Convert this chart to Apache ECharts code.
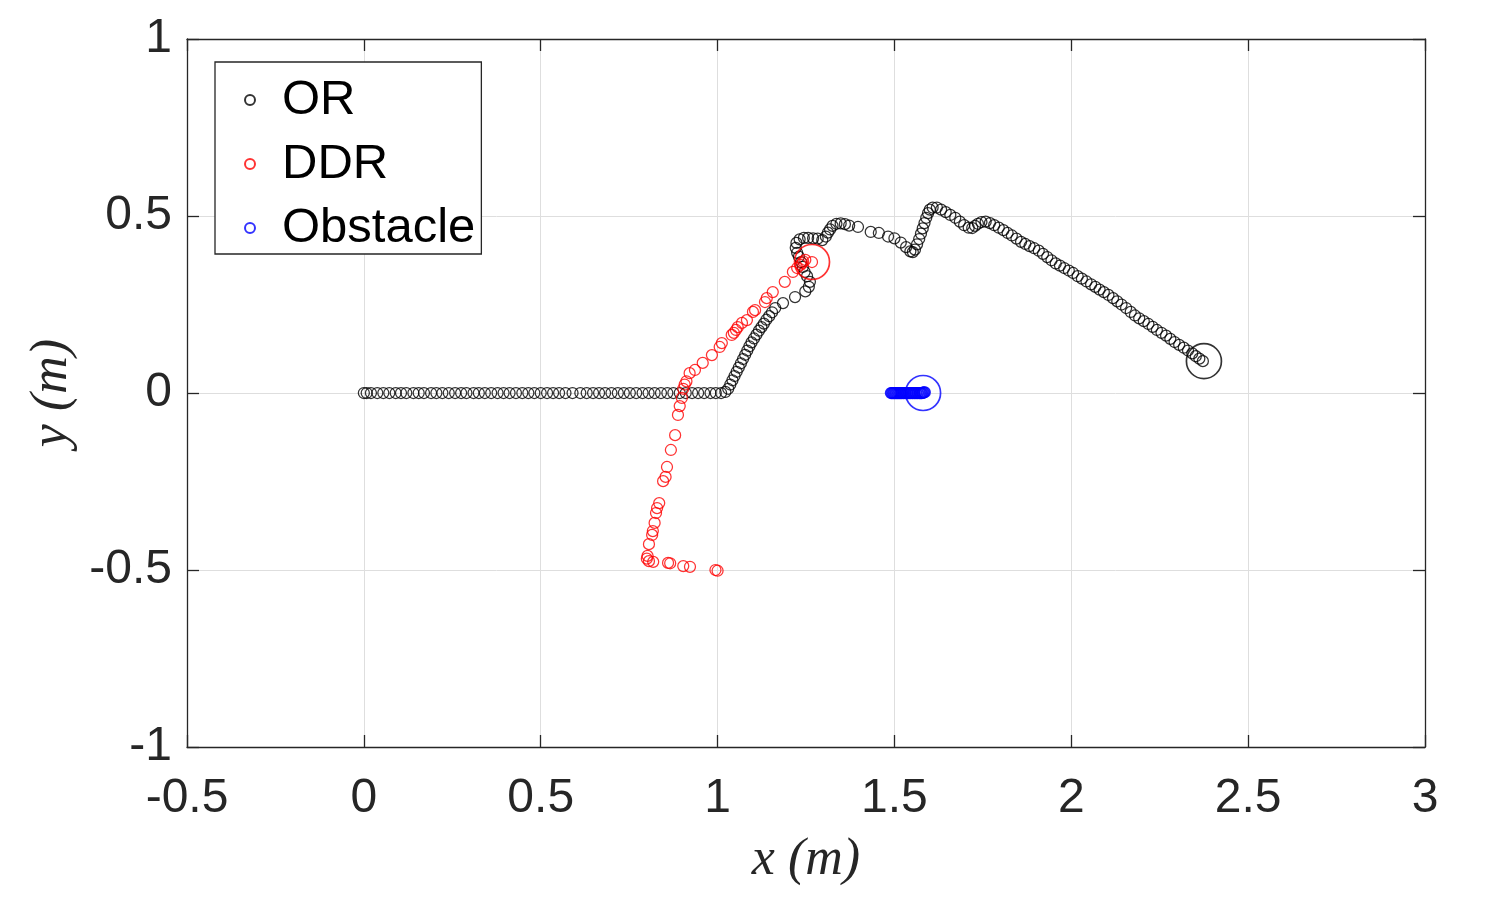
<!DOCTYPE html>
<html>
<head>
<meta charset="utf-8">
<script src="https://cdn.jsdelivr.net/npm/echarts@6/dist/echarts.min.js"></script>
<style>
  html, body { margin: 0; padding: 0; background: #fff; }
  #main { width: 1500px; height: 900px; }
</style>
</head>
<body>
<div id="main"></div>
<script>
// trajectory points, [x, y] in metres
var orPoints = [
  [0,0],[0.008,0],[0.02,0],[0.038,0],[0.055,0],[0.072,0],[0.09,0],[0.105,0],[0.12,0],[0.14,0],
  [0.155,0],[0.17,0],[0.19,0],[0.205,0],[0.222,0],[0.24,0],[0.258,0],[0.275,0],[0.29,0],[0.31,0],
  [0.325,0],[0.342,0],[0.36,0],[0.378,0],[0.395,0],[0.412,0],[0.43,0],[0.448,0],[0.465,0],[0.482,0],
  [0.5,0],[0.518,0],[0.535,0],[0.552,0],[0.57,0],[0.59,0],[0.612,0],[0.63,0],[0.648,0],[0.665,0],
  [0.682,0],[0.7,0],[0.718,0],[0.735,0],[0.752,0],[0.77,0],[0.788,0],[0.805,0],[0.822,0],[0.84,0],
  [0.858,0],[0.875,0],[0.893,0],[0.91,0],[0.928,0],[0.945,0],[0.962,0],[0.98,0],[0.995,0],[1.01,0],
  [1.022,0.003],[1.03,0.012],[1.036,0.024],[1.042,0.036],[1.048,0.048],[1.054,0.06],[1.06,0.072],
  [1.066,0.084],[1.072,0.096],[1.078,0.108],[1.084,0.12],[1.09,0.132],[1.096,0.143],[1.103,0.154],
  [1.11,0.165],[1.117,0.176],[1.124,0.186],[1.131,0.196],[1.138,0.207],[1.146,0.217],[1.154,0.228],
  [1.163,0.24],[1.185,0.254],[1.219,0.271],[1.248,0.287],[1.258,0.3],[1.261,0.314],[1.253,0.33],
  [1.246,0.342],[1.241,0.356],[1.236,0.37],[1.23,0.385],[1.225,0.396],[1.221,0.41],[1.223,0.424],
  [1.232,0.434],[1.244,0.438],[1.256,0.438],[1.27,0.437],[1.283,0.436],[1.296,0.432],[1.306,0.442],
  [1.312,0.453],[1.318,0.462],[1.325,0.472],[1.336,0.478],[1.348,0.479],[1.36,0.477],[1.372,0.473],
  [1.397,0.469],[1.433,0.455],[1.456,0.452],[1.482,0.442],[1.5,0.437],[1.518,0.425],[1.533,0.412],
  [1.545,0.4],[1.552,0.398],[1.558,0.405],[1.564,0.42],[1.57,0.435],[1.575,0.45],[1.58,0.465],
  [1.585,0.48],[1.59,0.495],[1.595,0.508],[1.6,0.518],[1.608,0.524],[1.62,0.524],[1.632,0.518],
  [1.645,0.511],[1.658,0.503],[1.672,0.495],[1.685,0.484],[1.697,0.474],[1.71,0.467],[1.72,0.466],
  [1.728,0.472],[1.736,0.478],[1.746,0.483],[1.758,0.484],[1.77,0.48],[1.782,0.474],[1.795,0.467],
  [1.808,0.46],[1.82,0.452],[1.832,0.445],[1.845,0.436],[1.858,0.427],[1.87,0.421],[1.882,0.415],
  [1.895,0.409],[1.908,0.402],[1.92,0.393],[1.932,0.384],[1.944,0.375],[1.956,0.366],[1.968,0.36],
  [1.98,0.353],[1.993,0.346],[2.005,0.339],[2.018,0.33],[2.03,0.323],[2.043,0.315],[2.056,0.307],
  [2.068,0.3],[2.08,0.292],[2.092,0.285],[2.105,0.277],[2.118,0.268],[2.13,0.259],[2.142,0.25],
  [2.155,0.24],[2.168,0.229],[2.18,0.219],[2.192,0.211],[2.205,0.203],[2.218,0.195],[2.23,0.187],
  [2.242,0.178],[2.255,0.17],[2.268,0.162],[2.28,0.153],[2.292,0.144],[2.305,0.136],[2.318,0.128],
  [2.33,0.12],[2.342,0.112],[2.352,0.104],[2.362,0.097],[2.372,0.09]
];
var ddrPoints = [
  [1.0,-0.502],[0.994,-0.5],[0.922,-0.491],[0.903,-0.489],[0.866,-0.481],[0.86,-0.48],[0.818,-0.477],
  [0.806,-0.475],[0.8,-0.468],[0.802,-0.46],[0.806,-0.427],[0.815,-0.401],[0.817,-0.39],[0.822,-0.367],
  [0.826,-0.339],[0.829,-0.325],[0.835,-0.311],[0.846,-0.249],[0.853,-0.237],[0.857,-0.209],
  [0.868,-0.161],[0.88,-0.119],[0.888,-0.062],[0.893,-0.037],[0.899,-0.014],[0.903,0.012],
  [0.907,0.024],[0.912,0.033],[0.921,0.056],[0.936,0.065],[0.958,0.085],[0.984,0.107],[1.006,0.13],
  [1.012,0.141],[1.04,0.164],[1.046,0.17],[1.052,0.178],[1.057,0.186],[1.069,0.198],[1.083,0.206],
  [1.1,0.229],[1.106,0.234],[1.134,0.257],[1.139,0.268],[1.156,0.285],[1.19,0.314],[1.213,0.342],
  [1.225,0.353],[1.235,0.362],[1.239,0.367],[1.242,0.372],[1.248,0.376],[1.267,0.37]
];
var obstaclePoints = [
  [1.49,0],[1.492,0],[1.494,0],[1.496,0],[1.498,0],[1.5,0],[1.502,0],[1.504,0],[1.506,0],[1.508,0],
  [1.51,0],[1.512,0],[1.514,0],[1.516,0],[1.518,0],[1.52,0],[1.522,0],[1.525,0],[1.527,0],[1.53,0],
  [1.532,0],[1.535,0],[1.537,0],[1.54,0],[1.542,0],[1.545,0],[1.547,0],[1.55,0],[1.552,0],[1.555,0],
  [1.557,0],[1.56,0],[1.562,0],[1.565,0],[1.567,0],[1.57,0],[1.572,0],[1.574,0],[1.576,0],[1.578,0],
  [1.58,0.001],[1.582,0.001],[1.584,0.002],[1.586,0.002]
];
// current positions, drawn with a big circle
var orEnd = [[2.375, 0.09]];
var ddrEnd = [[1.267, 0.37]];
var obstacleEnd = [[1.581, 0]];

var seriesNames = ['OR', 'DDR', 'Obstacle'];
var seriesColors = ['#000000', '#ff0000', '#0000ff'];

var myChart = echarts.init(document.getElementById('main'));

var axisColor = '#262626';
var tickFont = 'Arial, "Liberation Sans", sans-serif';

function pointSeries(name, data, color, size) {
  return {
    name: name,
    type: 'scatter',
    data: data,
    symbol: 'circle',
    symbolSize: size,
    silent: true,
    itemStyle: { color: 'transparent', borderColor: color, borderWidth: size > 20 ? 1.7 : 1.25 }
  };
}

var option = {
  animation: false,
  backgroundColor: '#fff',
  grid: { left: 187, right: 75, top: 39, bottom: 153 },
  legend: {
    data: seriesNames.map(function (n) { return { name: n, icon: 'circle' }; }),
    orient: 'vertical',
    left: 215,
    top: 62,
    itemWidth: 10,
    itemHeight: 10,
    itemGap: 14,
    padding: [13, 6, 1, 29],
    borderColor: axisColor,
    borderWidth: 1.3,
    backgroundColor: '#fff',
    textStyle: {
      fontFamily: tickFont,
      fontSize: 49,
      lineHeight: 50,
      color: '#000',
      padding: [0, 0, 0, 22]
    }
  },
  xAxis: [{
    type: 'value',
    min: -0.5,
    max: 3,
    interval: 0.5,
    name: 'x (m)',
    nameLocation: 'middle',
    nameGap: 87,
    nameTextStyle: { fontFamily: '"Liberation Serif", "DejaVu Serif", serif', fontStyle: 'italic', fontSize: 52, color: axisColor },
    axisLine: { onZero: false, lineStyle: { color: axisColor, width: 1.3 } },
    axisTick: { inside: true, length: 12, lineStyle: { color: axisColor, width: 1.3 } },
    axisLabel: { fontFamily: tickFont, fontSize: 48, color: axisColor, margin: 28 },
    splitLine: { show: true, lineStyle: { color: '#dedede', width: 1 } }
  }, {
    type: 'value',
    position: 'top',
    min: -0.5,
    max: 3,
    interval: 0.5,
    axisLine: { onZero: false, lineStyle: { color: axisColor, width: 1.3 } },
    axisTick: { inside: true, length: 12, lineStyle: { color: axisColor, width: 1.3 } },
    axisLabel: { show: false },
    splitLine: { show: false }
  }],
  yAxis: [{
    type: 'value',
    min: -1,
    max: 1,
    interval: 0.5,
    name: 'y (m)',
    nameLocation: 'middle',
    nameGap: 106,
    nameTextStyle: { fontFamily: '"Liberation Serif", "DejaVu Serif", serif', fontStyle: 'italic', fontSize: 52, color: axisColor },
    axisLine: { onZero: false, lineStyle: { color: axisColor, width: 1.3 } },
    axisTick: { inside: true, length: 12, lineStyle: { color: axisColor, width: 1.3 } },
    axisLabel: { fontFamily: tickFont, fontSize: 48, color: axisColor, margin: 15, padding: [8, 0, 0, 0] },
    splitLine: { show: true, lineStyle: { color: '#dedede', width: 1 } }
  }, {
    type: 'value',
    position: 'right',
    min: -1,
    max: 1,
    interval: 0.5,
    axisLine: { onZero: false, lineStyle: { color: axisColor, width: 1.3 } },
    axisTick: { inside: true, length: 12, lineStyle: { color: axisColor, width: 1.3 } },
    axisLabel: { show: false },
    splitLine: { show: false }
  }],
  series: [
    pointSeries(seriesNames[0], orPoints, seriesColors[0], 11),
    pointSeries(seriesNames[1], ddrPoints, seriesColors[1], 11),
    pointSeries(seriesNames[2], obstaclePoints, seriesColors[2], 11),
    pointSeries('OR end', orEnd, seriesColors[0], 35),
    pointSeries('DDR end', ddrEnd, seriesColors[1], 35),
    pointSeries('Obstacle end', obstacleEnd, seriesColors[2], 35)
  ]
};

myChart.setOption(option);
</script>
</body>
</html>
